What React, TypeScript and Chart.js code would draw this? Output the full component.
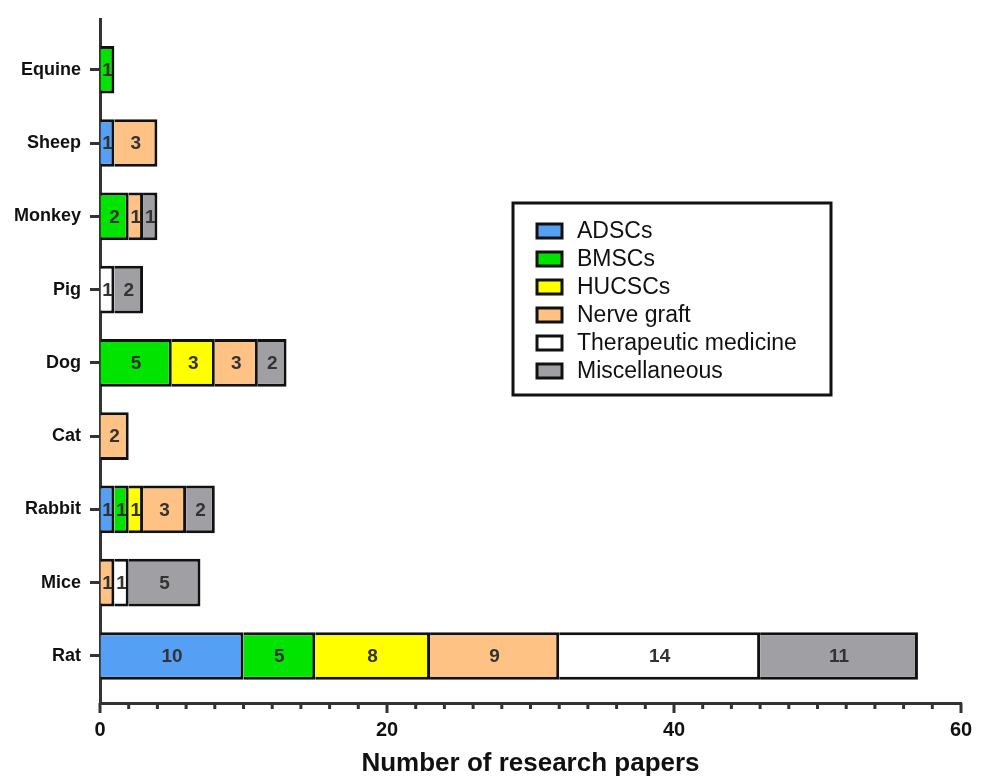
import React, { useEffect, useRef } from "react";
import { Chart, registerables } from "chart.js";

Chart.register(...registerables);

const categories = ["Equine", "Sheep", "Monkey", "Pig", "Dog", "Cat", "Rabbit", "Mice", "Rat"];
const seriesNames = ["ADSCs", "BMSCs", "HUCSCs", "Nerve graft", "Therapeutic medicine", "Miscellaneous"];
const adscs = [0, 1, 0, 0, 0, 0, 1, 0, 10];
const bmscs = [1, 0, 2, 0, 5, 0, 1, 0, 5];
const hucscs = [0, 0, 0, 0, 3, 0, 1, 0, 8];
const nerveGraft = [0, 3, 1, 0, 3, 2, 3, 1, 9];
const therapeutic = [0, 0, 0, 1, 0, 0, 0, 1, 14];
const misc = [0, 0, 1, 2, 2, 0, 2, 5, 11];
const seriesValues = [adscs, bmscs, hucscs, nerveGraft, therapeutic, misc];
const seriesColors = ["#55a0f5", "#00e400", "#ffff00", "#ffc285", "#ffffff", "#a0a0a4"];
const xTickLabels = [0, 20, 40, 60];

const FONT = "'Liberation Sans', Arial, Helvetica, sans-serif";

const barLabels = {
  id: "barLabels",
  afterDatasetsDraw(chart: any) {
    const ctx = chart.ctx;
    ctx.save();
    ctx.font = `bold 19px ${FONT}`;
    ctx.fillStyle = "#333333";
    ctx.textAlign = "center";
    ctx.textBaseline = "middle";
    chart.data.datasets.forEach((ds: any, di: number) => {
      const meta = chart.getDatasetMeta(di);
      meta.data.forEach((el: any, i: number) => {
        const raw = ds.data[i];
        if (!raw) return;
        ctx.fillText(String(raw.x), (el.x + el.base) / 2, el.y + 1);
      });
    });
    ctx.restore();
  },
};

const axisTicks = {
  id: "axisTicks",
  afterDraw(chart: any) {
    const ctx = chart.ctx;
    const xs = chart.scales.x;
    const bottom = chart.chartArea.bottom;
    ctx.save();
    ctx.strokeStyle = "#333333";
    ctx.lineWidth = 3;
    xs.ticks.forEach((t: any) => {
      const px = xs.getPixelForValue(t.value);
      const len = xTickLabels.includes(t.value) ? 10 : 6;
      ctx.beginPath();
      ctx.moveTo(px, bottom);
      ctx.lineTo(px, bottom + len);
      ctx.stroke();
    });
    ctx.restore();
  },
};

const boxLegend = {
  id: "boxLegend",
  afterDraw(chart: any) {
    const ctx = chart.ctx;
    const left = 513;
    const top = 203;
    const w = 318;
    const h = 192;
    ctx.save();
    ctx.fillStyle = "#ffffff";
    ctx.fillRect(left, top, w, h);
    ctx.strokeStyle = "#111111";
    ctx.lineWidth = 3;
    ctx.strokeRect(left, top, w, h);
    ctx.font = `23px ${FONT}`;
    ctx.textBaseline = "middle";
    ctx.textAlign = "left";
    chart.data.datasets.forEach((ds: any, i: number) => {
      const cy = top + 28 + i * 28;
      ctx.fillStyle = ds.backgroundColor;
      ctx.fillRect(left + 24, cy - 7, 25, 14);
      ctx.lineWidth = 3;
      ctx.strokeStyle = "#111111";
      ctx.strokeRect(left + 24, cy - 7, 25, 14);
      ctx.fillStyle = "#111111";
      ctx.fillText(ds.label, left + 64, cy + 1);
    });
    ctx.restore();
  },
};

export default function App() {
  const ref = useRef<HTMLCanvasElement>(null);
  useEffect(() => {
    if (!ref.current) return;
    Chart.defaults.font.family = FONT;
    const datasets = seriesNames.map((name, si) => ({
      label: name,
      backgroundColor: seriesColors[si],
      borderColor: "#111111",
      borderWidth: 3,
      borderSkipped: "start" as const,
      categoryPercentage: 1,
      barPercentage: 0.65,
      data: seriesValues[si]
        .map((v, i) => (v ? { x: v, y: i } : null))
        .filter((p) => p !== null) as { x: number; y: number }[],
    }));
    const chart = new Chart(ref.current, {
      type: "bar",
      data: { datasets },
      options: {
        indexAxis: "y",
        animation: false,
        responsive: true,
        maintainAspectRatio: false,
        layout: { padding: { top: 13, right: 25, left: 0, bottom: 0 } },
        plugins: { legend: { display: false }, tooltip: { enabled: false } },
        scales: {
          x: {
            type: "linear",
            stacked: true,
            offset: false,
            min: 0,
            max: 60,
            ticks: {
              stepSize: 2,
              autoSkip: false,
              maxRotation: 0,
              padding: 5,
              color: "#111111",
              font: { size: 20, weight: "bold" },
              callback: (v: any) => (xTickLabels.includes(Number(v)) ? String(v) : ""),
            },
            grid: { offset: false, drawOnChartArea: false, tickLength: 10, tickColor: "rgba(0,0,0,0)" },
            border: { color: "#333333", width: 3 },
            title: {
              display: true,
              text: "Number of research papers",
              color: "#111111",
              font: { size: 26, weight: "bold", lineHeight: 1 },
              padding: { top: 0, bottom: 0 },
            },
            afterFit: (s: any) => {
              s.height = 74;
            },
          },
          y: {
            type: "linear",
            reverse: true,
            stacked: true,
            offset: false,
            min: -0.682,
            max: 8.642,
            ticks: {
              stepSize: 1,
              includeBounds: false,
              autoSkip: false,
              padding: 9,
              color: "#111111",
              font: { size: 18, weight: "bold" },
              callback: (v: any) => categories[Number(v)] ?? "",
            },
            grid: { offset: false, drawOnChartArea: false, tickLength: 10, tickWidth: 3, tickColor: "#333333" },
            border: { color: "#333333", width: 3 },
            afterFit: (s: any) => {
              s.width = 100;
            },
          },
        },
      } as any,
      plugins: [barLabels, axisTicks, boxLegend],
    });
    return () => chart.destroy();
  }, []);
  return (
    <div style={{ position: "absolute", left: 0, top: 0, width: 986, height: 777, background: "#fff" }}>
      <canvas ref={ref} />
    </div>
  );
}
